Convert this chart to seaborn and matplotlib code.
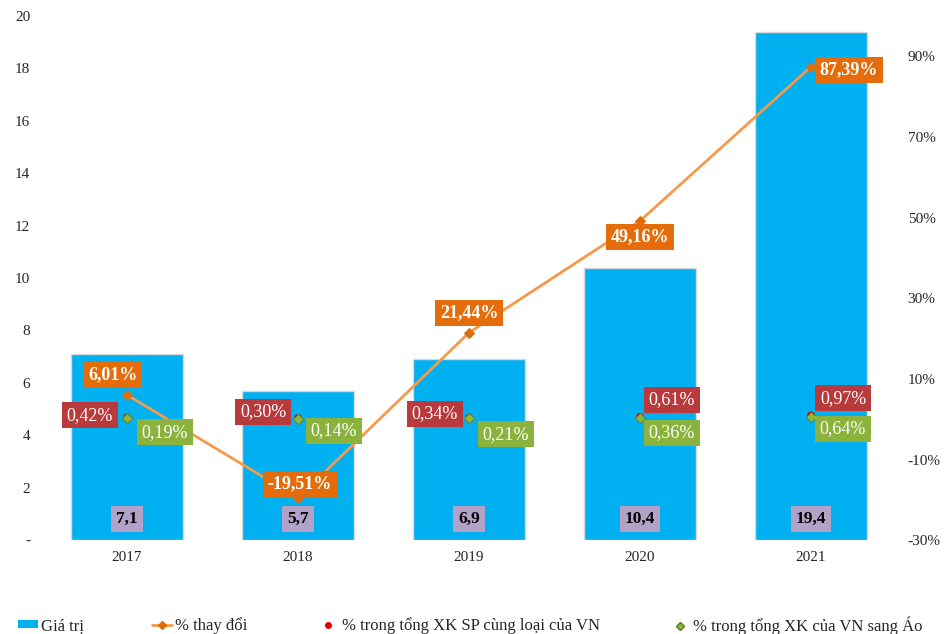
import numpy as np
import pandas as pd
import matplotlib
matplotlib.use('Agg')
import matplotlib.pyplot as plt
import seaborn as sns
from matplotlib.lines import Line2D
from matplotlib.patches import Patch

years = ['2017', '2018', '2019', '2020', '2021']
gia_tri = [7.1, 5.7, 6.9, 10.4, 19.4]
thay_doi = [6.01, -19.51, 21.44, 49.16, 87.39]
ty_trong_sp = [0.42, 0.30, 0.34, 0.61, 0.97]
ty_trong_ao = [0.19, 0.14, 0.21, 0.36, 0.64]
value_text = ['7,1', '5,7', '6,9', '10,4', '19,4']

sns.set_style('white')
plt.rcParams['font.family'] = ['Liberation Serif', 'DejaVu Serif']

df = pd.DataFrame({'year': years, 'value': gia_tri, 'change': thay_doi,
                   'sp': ty_trong_sp, 'ao': ty_trong_ao})
df['x'] = np.arange(len(df))

fig = plt.figure(figsize=(9.5, 6.34), dpi=100)
ax = fig.add_axes([0.0437, 0.148, 0.90, 0.827])
sns.barplot(data=df, x='year', y='value', color='#00B0F0', saturation=1,
            width=0.66, edgecolor='#d9d9d9', linewidth=1, ax=ax)
ax.set_ylim(0, 20)
ax.set_xlim(-0.5, 4.5)
ax.set_yticks(np.arange(0, 21, 2))
ax.set_yticklabels(['-'] + [str(v) for v in range(2, 21, 2)])
ax.set_xlabel('')
ax.set_ylabel('')
ax.tick_params(axis='both', length=0, labelsize=11, pad=8)

for i, t in enumerate(value_text):
    ax.text(i, 0.8, t, ha='center', va='center', fontsize=12.5, fontweight='bold',
            color='black', bbox=dict(boxstyle='square,pad=0.3', fc='#B3A2C7', ec='none'))

ax2 = ax.twinx()
sns.lineplot(data=df, x='x', y='change', color='#F59A4A', linewidth=2,
             marker='D', markersize=5, markeredgecolor='#E36C09',
             markerfacecolor='#E36C09', ax=ax2)
sns.scatterplot(data=df, x='x', y='sp', color='#E00000', s=30, marker='o',
                edgecolor='none', ax=ax2, zorder=4)
sns.scatterplot(data=df, x='x', y='ao', color='#8DB63C', s=28, marker='D',
                edgecolor='#5a7a20', linewidth=0.5, ax=ax2, zorder=5)
ax2.set_ylim(-30, 100)
ax2.set_xlim(-0.5, 4.5)
ax2.set_yticks(np.arange(-30, 91, 20))
ax2.set_yticklabels([f'{v}%' for v in range(-30, 91, 20)])
ax2.set_ylabel('')
ax2.tick_params(axis='y', length=0, labelsize=11, pad=8)

for a in (ax, ax2):
    for s in a.spines.values():
        s.set_visible(False)

def fmt(v):
    return f'{v:.2f}%'.replace('.', ',')

# offsets in pixels (dx, dy) from the data point
chg_off = [(-14, 20), (2, 14), (0, 20), (0, -16), (38, -3)]
sp_off = [(-37, 2), (-35, 6), (-34, 4), (32, 17), (32, 17)]
ao_off = [(38, -14), (36, -12), (37, -16), (32, -15), (32, -12)]

def label(x, y, txt, off, fc, bold):
    ax2.annotate(txt, (x, y), xytext=(off[0] * 0.72, off[1] * 0.72),
                 textcoords='offset points', ha='center', va='center',
                 fontsize=13, color='white',
                 fontweight='bold' if bold else 'normal',
                 bbox=dict(boxstyle='square,pad=0.25', fc=fc, ec='none'), zorder=6)

for i in range(len(df)):
    label(i, thay_doi[i], fmt(thay_doi[i]), chg_off[i], '#E46C0A', True)
    label(i, ty_trong_sp[i], fmt(ty_trong_sp[i]), sp_off[i], '#B83A3C', False)
    label(i, ty_trong_ao[i], fmt(ty_trong_ao[i]), ao_off[i], '#8AB23C', False)

handles = [
    Patch(facecolor='#00B0F0', edgecolor='none'),
    Line2D([], [], color='#F59A4A', lw=2, marker='D', markersize=4,
           markerfacecolor='#E36C09', markeredgecolor='#E36C09'),
    Line2D([], [], color='none', marker='o', markersize=5,
           markerfacecolor='#E00000', markeredgecolor='none'),
    Line2D([], [], color='none', marker='D', markersize=4,
           markerfacecolor='#8DB63C', markeredgecolor='#5a7a20'),
]
labels = ['Giá trị', '% thay đổi', '% trong tổng XK SP cùng loại của VN',
          '% trong tổng XK của VN sang Áo']
leg_x = [0.019, 0.160, 0.335, 0.705]
for h, l, lx in zip(handles, labels, leg_x):
    leg = fig.legend([h], [l], loc='center left', bbox_to_anchor=(lx, 0.0126),
                     frameon=False, fontsize=12, handlelength=1.2,
                     handletextpad=0.2, handleheight=0.4, borderpad=0, borderaxespad=0)

plt.savefig('out.png', dpi=100)
